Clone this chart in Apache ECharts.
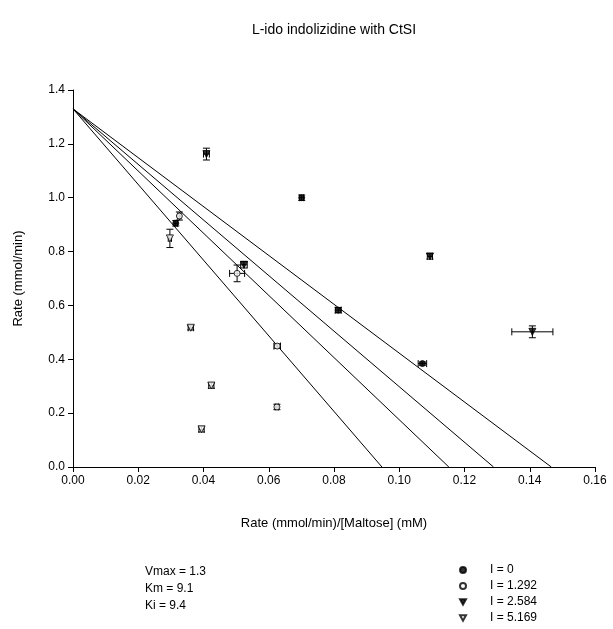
<!DOCTYPE html>
<html>
<head>
<meta charset="utf-8">
<script src="https://cdn.jsdelivr.net/npm/echarts@6/dist/echarts.min.js"></script>
<style>html,body{margin:0;padding:0;background:#fff}#c{width:613px;height:629px}</style>
</head>
<body>
<div id="c"></div>
<script>
// ---- data ----
const titleText = 'L-ido indolizidine with CtSI';
const xName = 'Rate (mmol/min)/[Maltose] (mM)';
const yName = 'Rate (mmol/min)';
const xTicks = [0.00, 0.02, 0.04, 0.06, 0.08, 0.10, 0.12, 0.14, 0.16];
const yTicks = [0.0, 0.2, 0.4, 0.6, 0.8, 1.0, 1.2, 1.4];
const seriesNames = ['I = 0', 'I = 1.292', 'I = 2.584', 'I = 5.169'];
const paramLines = ['Vmax = 1.3', 'Km = 9.1', 'Ki = 9.4'];

// I = 0 (filled circles)
const i0X = [0.0315, 0.0701, 0.0813, 0.1071];
const i0Y = [0.905, 1.000, 0.5825, 0.384];
const i0XErr = [0.0005, 0.0006, 0.0009, 0.0013];
const i0YErr = [0.010, 0.010, 0.010, 0.006];
// I = 1.292 (open circles)
const i1X = [0.0326, 0.0503, 0.0626, 0.0625];
const i1Y = [0.932, 0.719, 0.449, 0.223];
const i1XErr = [0.0005, 0.0023, 0.0010, 0.0005];
const i1YErr = [0.015, 0.031, 0.008, 0.010];
// I = 2.584 (filled down triangles)
const i2X = [0.0409, 0.0524, 0.1094, 0.1408];
const i2Y = [1.162, 0.751, 0.782, 0.502];
const i2XErr = [0.0009, 0.0010, 0.0008, 0.0063];
const i2YErr = [0.022, 0.012, 0.010, 0.022];
// I = 5.169 (open down triangles)
const i3X = [0.0297, 0.0361, 0.0424, 0.0394];
const i3Y = [0.849, 0.517, 0.3025, 0.140];
const i3XErr = [0.0005, 0.0008, 0.0008, 0.0008];
const i3YErr = [0.034, 0.008, 0.010, 0.010];

// fitted lines: y-intercept and x-intercepts
const lineYIntercept = 1.33;
const lineXIntercepts = [0.1466, 0.1289, 0.1152, 0.0947];

// ---- build ----
const FONT = 'Liberation Sans, Arial, sans-serif';
const downTri = 'path://M0,0 L10,0 L5,9 Z';
function pts(xs, ys) { return xs.map((x, i) => [x, ys[i]]); }
function errs(xs, ys, xe, ye) { return xs.map((x, i) => [x, ys[i], xe[i], ye[i]]); }

const allErr = [].concat(
  errs(i0X, i0Y, i0XErr, i0YErr),
  errs(i1X, i1Y, i1XErr, i1YErr),
  errs(i2X, i2Y, i2XErr, i2YErr),
  errs(i3X, i3Y, i3XErr, i3YErr)
);

function renderErr(params, api) {
  const x = api.value(0), y = api.value(1), xe = api.value(2), ye = api.value(3);
  const cap = 3.5;
  const st = { stroke: '#000', lineWidth: 1 };
  const ch = [];
  if (ye > 0) {
    const a = api.coord([x, y - ye]), b = api.coord([x, y + ye]);
    ch.push({ type: 'line', shape: { x1: a[0], y1: a[1], x2: b[0], y2: b[1] }, style: st });
    ch.push({ type: 'line', shape: { x1: a[0] - cap, y1: a[1], x2: a[0] + cap, y2: a[1] }, style: st });
    ch.push({ type: 'line', shape: { x1: b[0] - cap, y1: b[1], x2: b[0] + cap, y2: b[1] }, style: st });
  }
  if (xe > 0) {
    const a = api.coord([x - xe, y]), b = api.coord([x + xe, y]);
    ch.push({ type: 'line', shape: { x1: a[0], y1: a[1], x2: b[0], y2: b[1] }, style: st });
    ch.push({ type: 'line', shape: { x1: a[0], y1: a[1] - cap, x2: a[0], y2: a[1] + cap }, style: st });
    ch.push({ type: 'line', shape: { x1: b[0], y1: b[1] - cap, x2: b[0], y2: b[1] + cap }, style: st });
  }
  return { type: 'group', children: ch };
}

const lineSeries = lineXIntercepts.map((xi) => ({
  type: 'line', data: [[0, lineYIntercept], [xi, 0]], symbol: 'none',
  lineStyle: { color: '#000', width: 1 }, silent: true, z: 1, legendHoverLink: false
}));

const chart = echarts.init(document.getElementById('c'), null, { renderer: 'canvas' });
chart.setOption({
  animation: false,
  backgroundColor: '#fff',
  grid: { left: 73, right: 18, top: 90, bottom: 162, outerBoundsMode: 'none' },
  xAxis: {
    type: 'value', min: xTicks[0], max: xTicks[xTicks.length - 1], interval: 0.02,
    name: xName, nameLocation: 'middle', nameGap: 50,
    nameTextStyle: { fontFamily: FONT, fontSize: 13, color: '#000' },
    axisLine: { lineStyle: { color: '#000', width: 1 } },
    axisTick: { show: true, length: 5, lineStyle: { color: '#000' } },
    axisLabel: { fontFamily: FONT, fontSize: 12, color: '#000', margin: 8, formatter: v => v.toFixed(2) },
    splitLine: { show: false }
  },
  yAxis: {
    type: 'value', min: yTicks[0], max: yTicks[yTicks.length - 1], interval: 0.2,
    name: yName, nameLocation: 'middle', nameGap: 48, nameRotate: 90,
    nameTextStyle: { fontFamily: FONT, fontSize: 13, color: '#000' },
    axisLine: { show: true, lineStyle: { color: '#000', width: 1 } },
    axisTick: { show: true, length: 5, lineStyle: { color: '#000' } },
    axisLabel: { fontFamily: FONT, fontSize: 12, color: '#000', margin: 8, formatter: v => v.toFixed(1) },
    splitLine: { show: false }
  },
  legend: {
    orient: 'vertical', left: 459, top: 564, height: 70, padding: 0,
    itemWidth: 6, itemHeight: 6, itemGap: 4,
    textStyle: { fontFamily: FONT, fontSize: 12, lineHeight: 12, color: '#000', padding: [0, 0, 0, 19] },
    data: seriesNames, selectedMode: false
  },
  graphic: [
    { type: 'text', x: 334, y: 30, style: { text: titleText, font: '14px ' + FONT, fill: '#000', textAlign: 'center', textVerticalAlign: 'middle' } },
    { type: 'text', x: 145, y: 563, style: { text: paramLines.join('\n'), font: '12px ' + FONT, lineHeight: 17, fill: '#000', textAlign: 'left', textVerticalAlign: 'top' } }
  ],
  series: [
    ...lineSeries,
    { type: 'custom', renderItem: renderErr, data: allErr, encode: { x: 0, y: 1 }, z: 2, silent: true, legendHoverLink: false },
    { name: seriesNames[0], type: 'scatter', data: pts(i0X, i0Y), symbol: 'circle', symbolSize: 6,
      itemStyle: { color: '#000', borderColor: '#000', borderWidth: 1 }, z: 3 },
    { name: seriesNames[1], type: 'scatter', data: pts(i1X, i1Y), symbol: 'circle', symbolSize: 6,
      itemStyle: { color: '#fff', borderColor: '#000', borderWidth: 1 }, z: 3 },
    { name: seriesNames[2], type: 'scatter', data: pts(i2X, i2Y), symbol: downTri, symbolSize: 7,
      itemStyle: { color: '#000', borderColor: '#000', borderWidth: 1 }, z: 3 },
    { name: seriesNames[3], type: 'scatter', data: pts(i3X, i3Y), symbol: downTri, symbolSize: 7,
      itemStyle: { color: '#fff', borderColor: '#000', borderWidth: 1 }, z: 3 }
  ]
});
</script>
</body>
</html>
